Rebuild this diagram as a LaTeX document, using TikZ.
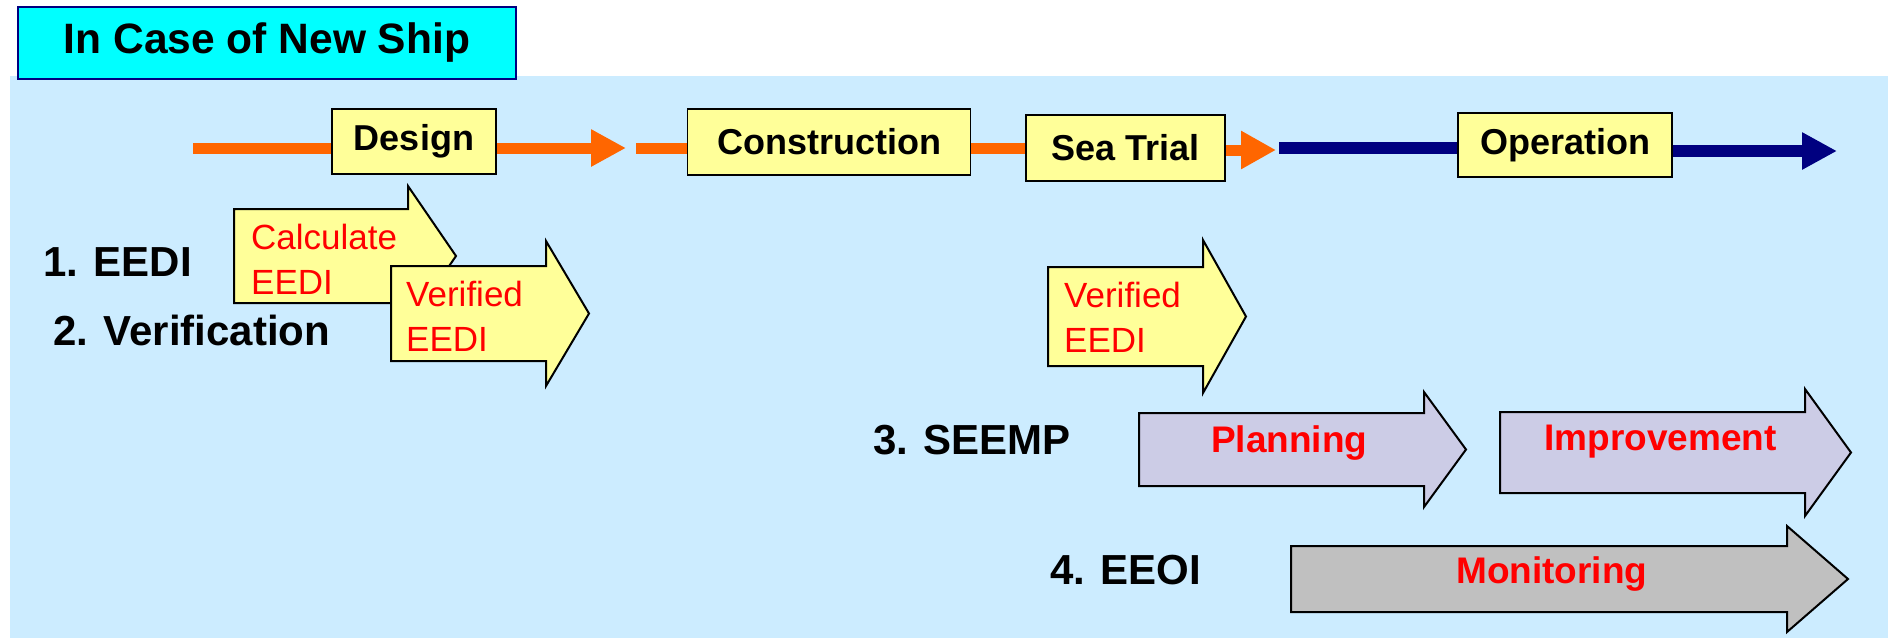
\documentclass[tikz,border=0pt]{standalone}
\usepackage{fontspec}
\setmainfont{Liberation Sans}
\usetikzlibrary{arrows.meta}

\definecolor{bgblue}{RGB}{204,236,255}
\definecolor{titlecyan}{RGB}{0,255,255}
\definecolor{stepyellow}{RGB}{255,255,153}
\definecolor{flowOrange}{RGB}{255,102,0}
\definecolor{flowNavy}{RGB}{0,0,128}
\definecolor{planLilac}{RGB}{204,204,230}
\definecolor{monGray}{RGB}{192,192,192}

\begin{document}
\begin{tikzpicture}[x=1pt, y=-1pt,
    stepbox/.style={draw=black, line width=1.5pt, fill=stepyellow, inner sep=0pt,
        font=\fontsize{36}{43}\selectfont\bfseries},
    flowline/.style={line width=11pt},
    tag/.style={anchor=base west, inner sep=0pt, font=\fontsize{42}{50}\selectfont\bfseries},
    note/.style={anchor=base west, inner sep=0pt, align=left, text=red,
        font=\fontsize{35}{45}\selectfont},
    phase/.style={anchor=base west, inner sep=0pt, text=red,
        font=\fontsize{37}{44}\selectfont\bfseries}]

    \useasboundingbox (0,0) rectangle (1888,638);

    % Light blue panel behind everything
    \fill[bgblue] (10,76) rectangle (1888,638);

    % Title tab
    \node[draw=flowNavy, line width=2pt, fill=titlecyan, minimum width=498pt,
        minimum height=72pt, inner sep=0pt, font=\fontsize{42.5}{50}\selectfont\bfseries]
        (title) at (267,43) {In Case of New Ship};

    % Stages on the time line
    \node[stepbox, minimum width=164pt, minimum height=65pt] (design) at (414,141.5) {Design};
    \node[stepbox, minimum width=283pt, minimum height=66pt] (construction) at (829,142) {Construction};
    \node[stepbox, minimum width=199pt, minimum height=66pt] (seatrial) at (1125.5,148) {Sea Trial};
    \node[stepbox, minimum width=214pt, minimum height=64pt] (operation) at (1565,145) {Operation};

    % Time line pieces
    \coordinate (start) at (193,148);
    \coordinate (tipA) at (626,148);
    \coordinate (restart) at (636,148);
    \coordinate (tipB) at (1276,150);
    \coordinate (navystart) at (1279,148);
    \coordinate (tipC) at (1837,151);

    \draw[flowline, flowOrange] (start) -- (start -| design.west);
    \draw[flowline, flowOrange, -{Triangle[length=35pt, width=35pt]}]
        (design.east |- tipA) -- (tipA);
    \draw[flowline, flowOrange] (restart) -- (restart -| construction.west);
    \draw[flowline, flowOrange] (construction.east |- restart) -- (restart -| seatrial.west);
    \draw[flowline, flowOrange, -{Triangle[length=35pt, width=36pt]}]
        (seatrial.east |- tipB) -- (tipB);
    \draw[flowline, flowNavy, line width=12pt] (navystart) -- (navystart -| operation.west);
    \draw[flowline, flowNavy, line width=12pt, -{Triangle[length=35pt, width=35pt]}]
        (operation.east |- tipC) -- (tipC);

    % Block arrows: left/top/bottom/head base/tip/overhang/colour
    \foreach \l/\t/\b/\h/\x/\o/\c in {234/209/303/408/456/23/stepyellow,
        391/266/361/546/589/25/stepyellow, 1048/267/366/1203/1246/27/stepyellow,
        1139/413/486/1424/1466/21/planLilac, 1500/412/493/1805/1851/23/planLilac,
        1291/546/612/1787/1848/20/monGray} {
        \filldraw[fill=\c, draw=black, line width=2pt]
            (\l,\t) -- (\h,\t) -- (\h,\t-\o) -- (\x,{(\t+\b)/2})
            -- (\h,\b+\o) -- (\h,\b) -- (\l,\b) -- cycle;
    }

    % Texts in the block arrows (base = last line)
    \node[note] (calc) at (251,294) {Calculate\\EEDI};
    \node[note] (verifA) at (406,351) {Verified\\EEDI};
    \node[note] (verifB) at (1064,352) {Verified\\EEDI};
    \node[phase] (plan) at (1211,452) {Planning};
    \node[phase] (improve) at (1544,450) {Improvement};
    \node[phase] (monitor) at (1456,583.5) {Monitoring};

    % Row labels
    \node[tag] (eedi) at (43,276) {1. EEDI};
    \node[tag] (verification) at (53,345) {2. Verification};
    \node[tag] (seemp) at (873,454) {3. SEEMP};
    \node[tag] (eeoi) at (1050,584) {4. EEOI};

\end{tikzpicture}
\end{document}
